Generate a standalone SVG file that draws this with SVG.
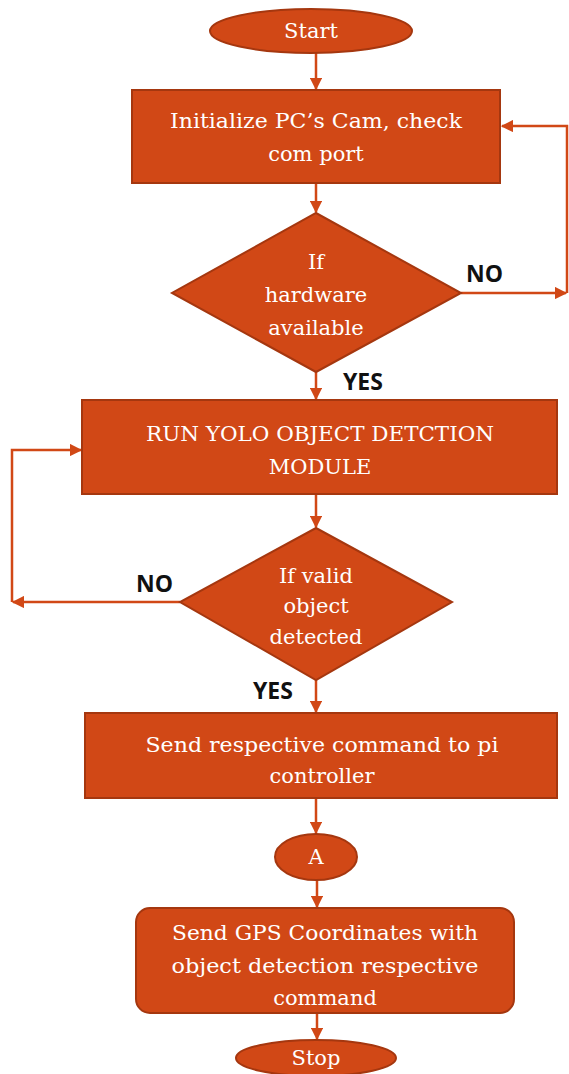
<svg xmlns="http://www.w3.org/2000/svg" width="569" height="1074" viewBox="0 0 569 1074">
<defs>
<style>
.n{fill:#D14816;stroke:#A5370F;stroke-width:2}
.t{font-family:"DejaVu Serif","Liberation Serif",serif;font-size:21px;fill:#fff;text-anchor:middle}
.l{font-family:"Open Sans","Liberation Sans",sans-serif;font-weight:bold;font-size:23px;fill:#111}
.c{fill:none;stroke:#D14816;stroke-width:2.5}
</style>
<marker id="ah" viewBox="0 0 10 10" refX="9" refY="5" markerWidth="5" markerHeight="5" orient="auto" markerUnits="strokeWidth">
<path d="M0,0 L10,5 L0,10 z" fill="#D14816"/>
</marker>
</defs>
<rect width="569" height="1074" fill="#fff"/>
<g id="connectors">
<line class="c" x1="316" y1="53" x2="316" y2="89" marker-end="url(#ah)"/>
<line class="c" x1="316" y1="183" x2="316" y2="212" marker-end="url(#ah)"/>
<polyline class="c" points="461,293 566,293" marker-end="url(#ah)"/>
<polyline class="c" points="567,293 567,126 502,126" marker-end="url(#ah)"/>
<line class="c" x1="316" y1="372" x2="316" y2="399" marker-end="url(#ah)"/>
<line class="c" x1="316" y1="494" x2="316" y2="527" marker-end="url(#ah)"/>
<polyline class="c" points="180,602 13,602" marker-end="url(#ah)"/>
<polyline class="c" points="12,602 12,450 81,450" marker-end="url(#ah)"/>
<line class="c" x1="316" y1="680" x2="316" y2="712" marker-end="url(#ah)"/>
<line class="c" x1="316" y1="798" x2="316" y2="833" marker-end="url(#ah)"/>
<line class="c" x1="317" y1="880" x2="317" y2="907" marker-end="url(#ah)"/>
<line class="c" x1="317" y1="1013" x2="317" y2="1039" marker-end="url(#ah)"/>
</g>
<g id="start">
<ellipse class="n" cx="311" cy="31" rx="101" ry="22"/>
<text class="t" x="311" y="38">Start</text>
</g>
<g id="init">
<rect class="n" x="132" y="90" width="368" height="93"/>
<text class="t" x="316" y="128" textLength="292" lengthAdjust="spacingAndGlyphs">Initialize PC’s Cam, check</text>
<text class="t" x="316" y="161">com port</text>
</g>
<g id="hw">
<polygon class="n" points="316,213 461,293 316,372 172,293"/>
<text class="t" x="316" y="269">If</text>
<text class="t" x="316" y="302">hardware</text>
<text class="t" x="316" y="335">available</text>
</g>
<g id="yolo">
<rect class="n" x="82" y="400" width="475" height="94"/>
<text class="t" x="320" y="441" textLength="348" lengthAdjust="spacingAndGlyphs">RUN YOLO OBJECT DETCTION</text>
<text class="t" x="320" y="474">MODULE</text>
</g>
<g id="valid">
<polygon class="n" points="316,528 452,602 316,680 180,602"/>
<text class="t" x="316" y="583">If valid</text>
<text class="t" x="316" y="613">object</text>
<text class="t" x="316" y="644">detected</text>
</g>
<g id="send">
<rect class="n" x="85" y="713" width="472" height="85"/>
<text class="t" x="322" y="752" textLength="353" lengthAdjust="spacingAndGlyphs">Send respective command to pi</text>
<text class="t" x="322" y="783">controller</text>
</g>
<g id="a">
<ellipse class="n" cx="316" cy="857" rx="41" ry="23"/>
<text class="t" x="316" y="864">A</text>
</g>
<g id="gps">
<rect class="n" x="136" y="908" width="378" height="105" rx="14"/>
<text class="t" x="325" y="940" textLength="306" lengthAdjust="spacingAndGlyphs">Send GPS Coordinates with</text>
<text class="t" x="325" y="973" textLength="307" lengthAdjust="spacingAndGlyphs">object detection respective</text>
<text class="t" x="325" y="1005">command</text>
</g>
<g id="stop">
<ellipse class="n" cx="316" cy="1058" rx="80" ry="18"/>
<text class="t" x="316" y="1065">Stop</text>
</g>
<g id="labels">
<text class="l" x="466" y="282">NO</text>
<text class="l" x="343" y="390">YES</text>
<text class="l" x="136" y="592">NO</text>
<text class="l" x="253" y="699">YES</text>
</g>
</svg>
